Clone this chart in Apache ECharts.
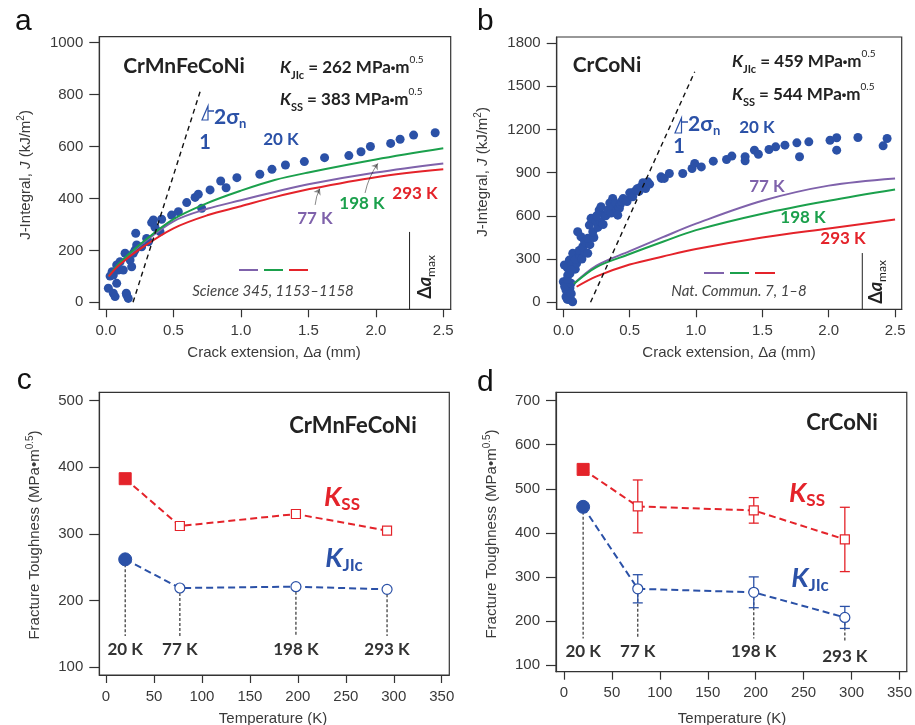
<!DOCTYPE html>
<html><head><meta charset="utf-8">
<script src="https://cdn.jsdelivr.net/npm/echarts@6/dist/echarts.min.js"></script>
<style>html,body{margin:0;padding:0;background:#fff}#c{width:915px;height:725px}</style>
</head><body><div id="c"></div>
<script>
// ---------------- DATA ----------------
// Panel a: CrMnFeCoNi, J-R curves
const crmnScatter20K = [[0.017,54],[0.030,101],[0.045,118],[0.054,105],[0.054,35],[0.067,22],[0.079,73],[0.079,144],[0.091,124],[0.104,156],[0.128,124],[0.141,189],[0.150,35],[0.153,28],[0.165,15],[0.165,176],[0.178,163],[0.190,137],[0.202,189],[0.215,201],[0.220,266],[0.227,221],[0.264,214],[0.301,246],[0.314,233],[0.338,307],[0.351,317],[0.363,289],[0.400,272],[0.412,320],[0.486,336],[0.536,349],[0.598,384],[0.660,404],[0.684,416],[0.709,362],[0.771,433],[0.85,467],[0.89,441],[0.97,480],[1.14,493],[1.23,512],[1.33,529],[1.47,542],[1.62,557],[1.80,565],[1.89,580],[1.96,600],[2.11,612],[2.18,628],[2.28,644],[2.44,653]];
const crmnCurveX = [0.02,0.1,0.25,0.5,0.75,1.0,1.25,1.5,2.0,2.5];
const crmn77K  = [100,150,218,312,360,393,425,455,500,535];
const crmn198K = [100,152,222,320,382,430,471,500,550,593];
const crmn293K = [100,145,205,285,335,370,405,435,482,512];
const crmnBlunt = [[0.20,0],[0.697,811]];
const crmnArrows = [[[1.55,375],[1.585,438]],[[1.92,421],[2.015,535]]];

// Panel b: CrCoNi, J-R curves
const crcoScatter20K = [[0.02,39],[0.07,4],[0.04,60],[0.058,16],[0.05,100],[0.02,85],[0.0,143],[0.01,110],[0.03,20],[0.06,60],[0.033,189],[0.058,132],[0.03,160],[0.05,200],[0.008,259],[0.03,240],[0.07,250],[0.09,230],[0.045,293],[0.06,270],[0.10,270],[0.071,340],[0.058,224],[0.09,300],[0.121,328],[0.12,360],[0.14,300],[0.16,350],[0.146,386],[0.184,340],[0.133,455],[0.16,420],[0.20,400],[0.184,444],[0.23,450],[0.196,536],[0.222,490],[0.108,490],[0.209,583],[0.246,559],[0.26,520],[0.28,560],[0.30,540],[0.25,600],[0.27,640],[0.284,663],[0.309,605],[0.32,600],[0.334,640],[0.35,690],[0.36,620],[0.38,660],[0.372,721],[0.397,686],[0.40,640],[0.422,652],[0.41,605],[0.43,680],[0.44,700],[0.45,720],[0.473,709],[0.48,700],[0.50,760],[0.52,760],[0.523,732],[0.548,779],[0.56,790],[0.57,770],[0.586,802],[0.60,830],[0.62,790],[0.623,814],[0.636,836],[0.65,820],[0.736,871],[0.74,860],[0.761,860],[0.799,894],[0.90,894],[0.97,929],[0.99,964],[1.04,940],[1.13,980],[1.23,991],[1.27,1015],[1.37,1010],[1.37,982],[1.44,1056],[1.47,1028],[1.55,1061],[1.60,1079],[1.67,1091],[1.76,1107],[1.78,1010],[1.85,1114],[2.01,1125],[2.06,1142],[2.06,1056],[2.22,1144],[2.41,1086],[2.44,1137]];
const crcoCurveX = [0.08,0.25,0.5,0.75,1.0,1.5,2.0,2.5];
const crco77K  = [130,255,355,452,546,705,810,860];
const crco198K = [128,245,335,420,501,615,705,783];
const crcoRedX = [0.1,0.25,0.5,0.75,1.0,1.5,2.0,2.5];
const crco293K = [108,180,262,318,370,450,513,575];
const crcoBlunt = [[0.205,0],[0.99,1600]];

const deltaAmaxA = 2.25, deltaAmaxB = 2.253;

// Panels c, d: fracture toughness vs temperature
const temps = [20,77,198,293];
const tempLabels = ['20 K','77 K','198 K','293 K'];
const crmnKss  = [383,312,330,305];
const crmnKjic = [262,219,221,217];
const crcoKss  = [544,460,451,385];
const crcoKssLo = [null,400,422,312];
const crcoKssHi = [null,520,480,458];
const crcoKjic = [459,273,265,208];
const crcoKjicLo = [null,241,230,183];
const crcoKjicHi = [null,305,300,233];

// tick values
const jrTicksX = [0,0.5,1.0,1.5,2.0,2.5];
const aTicksY = [0,200,400,600,800,1000];
const bTicksY = [0,300,600,900,1200,1500,1800];
const tTicksX = [0,50,100,150,200,250,300,350];
const cTicksY = [100,200,300,400,500];
const dTicksY = [100,200,300,400,500,600,700];

// ---------------- STYLE ----------------
const AX = '"Liberation Sans", Arial, sans-serif';
const AN = 'Lato, "Open Sans", sans-serif';
const BLUE='#2b51a7', RED='#e4232a', GREEN='#1ba04c', PURPLE='#7f62ab', INK='#222';

function xAx(gi,min,max,ticks,fmt){
  return {type:'value', gridIndex:gi, min:min, max:max,
    axisLine:{show:true,onZero:false,lineStyle:{color:'#333',width:1.2}},
    axisTick:{show:true,inside:false,length:8,customValues:ticks,lineStyle:{color:'#333',width:1.2}},
    axisLabel:{show:true,customValues:ticks,margin:14,fontFamily:AX,fontSize:15,color:'#3a3a3a',formatter:fmt||(v=>String(v))},
    splitLine:{show:false}};
}
function yAx(gi,min,max,ticks){
  return {type:'value', gridIndex:gi, min:min, max:max,
    axisLine:{show:true,onZero:false,lineStyle:{color:'#333',width:1.2}},
    axisTick:{show:true,inside:false,length:10,customValues:ticks,lineStyle:{color:'#333',width:1.2}},
    axisLabel:{show:true,customValues:ticks,margin:16,fontFamily:AX,fontSize:15,color:'#3a3a3a',formatter:v=>String(v)},
    splitLine:{show:false}};
}
const gridBase = {show:true,borderColor:'#333',borderWidth:1.2,backgroundColor:'transparent',containLabel:false};
const fmt1 = v => v.toFixed(1);

function curve(gi,xs,ys,color){
  return {type:'line',xAxisIndex:gi,yAxisIndex:gi,data:xs.map((x,i)=>[x,ys[i]]),smooth:0.35,
    showSymbol:false,symbol:'none',lineStyle:{color:color,width:2},z:4,silent:true};
}
function errRender(color){
  return function(params,api){
    const x=api.value(0),lo=api.value(1),hi=api.value(2);
    const p1=api.coord([x,lo]),p2=api.coord([x,hi]);const w=5;
    const st={stroke:color,lineWidth:1.3};
    return {type:'group',children:[
      {type:'line',shape:{x1:p1[0],y1:p1[1],x2:p2[0],y2:p2[1]},style:st},
      {type:'line',shape:{x1:p1[0]-w,y1:p1[1],x2:p1[0]+w,y2:p1[1]},style:st},
      {type:'line',shape:{x1:p2[0]-w,y1:p2[1],x2:p2[0]+w,y2:p2[1]},style:st}]};
  };
}
function dropRender(params,api){
  const x=api.value(0),top=api.value(1),base=api.value(2);
  const p1=api.coord([x,top]),p2=api.coord([x,base]);
  return {type:'line',shape:{x1:p1[0],y1:p1[1],x2:p2[0],y2:p2[1]},style:{stroke:'#333',lineWidth:1.2,lineDash:[3,2]}};
}
function kSeries(gi,vals,color,shape){
  return {type:'line',xAxisIndex:gi,yAxisIndex:gi,symbol:shape,z:5,
    lineStyle:{color:color,width:2,type:[7,4]},
    data:temps.map((t,i)=> i===0 ?
      {value:[t,vals[i]],symbolSize:shape==='rect'?12:13,itemStyle:{color:color,borderColor:color,borderWidth:1}} :
      {value:[t,vals[i]],symbolSize:shape==='rect'?9:10,itemStyle:{color:'#fff',borderColor:color,borderWidth:1.2}})};
}

const chart = echarts.init(document.getElementById('c'));
chart.setOption({
  animation:false,
  backgroundColor:'#fff',
  grid:[
    Object.assign({left:99.3,top:36.7,width:351.4,height:272.6},gridBase),
    Object.assign({left:556.7,top:37,width:345,height:272.3},gridBase),
    Object.assign({left:99.3,top:392.3,width:350,height:282.7},gridBase),
    Object.assign({left:556,top:392.3,width:351.3,height:279.4},gridBase)
  ],
  xAxis:[
    xAx(0,-0.05,2.555,jrTicksX,fmt1),
    xAx(1,-0.05,2.55,jrTicksX,fmt1),
    xAx(2,-7,357.9,tTicksX),
    xAx(3,-8.3,357.6,tTicksX)
  ],
  yAxis:[
    yAx(0,-27,1023,aTicksY),
    yAx(1,-48.5,1841.6,bTicksY),
    yAx(2,88.5,512.6,cTicksY),
    yAx(3,84.8,719,dTicksY)
  ],
  series:[
    // panel a
    {type:'scatter',xAxisIndex:0,yAxisIndex:0,data:crmnScatter20K,symbolSize:9,itemStyle:{color:BLUE,opacity:1},z:3},
    curve(0,crmnCurveX,crmn77K,PURPLE),
    curve(0,crmnCurveX,crmn198K,GREEN),
    curve(0,crmnCurveX,crmn293K,RED),
    {type:'line',xAxisIndex:0,yAxisIndex:0,data:crmnBlunt,symbol:'none',lineStyle:{color:'#111',width:1.4,type:[5,4]},z:4},
    {type:'line',xAxisIndex:0,yAxisIndex:0,data:[[deltaAmaxA,-27],[deltaAmaxA,271]],symbol:'none',lineStyle:{color:'#222',width:1},z:4},
    {type:'lines',coordinateSystem:'cartesian2d',xAxisIndex:0,yAxisIndex:0,symbol:['none','arrow'],symbolSize:6,
      lineStyle:{color:'#111',width:1,curveness:0.1},data:crmnArrows.map(c=>({coords:c})),z:6},
    // panel b
    {type:'scatter',xAxisIndex:1,yAxisIndex:1,data:crcoScatter20K,symbolSize:9,itemStyle:{color:BLUE,opacity:1},z:3},
    curve(1,crcoCurveX,crco77K,PURPLE),
    curve(1,crcoCurveX,crco198K,GREEN),
    curve(1,crcoRedX,crco293K,RED),
    {type:'line',xAxisIndex:1,yAxisIndex:1,data:crcoBlunt,symbol:'none',lineStyle:{color:'#111',width:1.4,type:[5,4]},z:4},
    {type:'line',xAxisIndex:1,yAxisIndex:1,data:[[deltaAmaxB,-48.5],[deltaAmaxB,342]],symbol:'none',lineStyle:{color:'#222',width:1},z:4},
    // panel c
    {type:'custom',xAxisIndex:2,yAxisIndex:2,renderItem:dropRender,encode:{x:0,y:[1,2]},z:1,
      data:temps.map((t,i)=>[t,crmnKjic[i],147])},
    kSeries(2,crmnKss,RED,'rect'),
    kSeries(2,crmnKjic,BLUE,'circle'),
    // panel d
    {type:'custom',xAxisIndex:3,yAxisIndex:3,renderItem:dropRender,encode:{x:0,y:[1,2]},z:1,
      data:temps.map((t,i)=>[t,crcoKjic[i],i===3?152:160])},
    {type:'custom',xAxisIndex:3,yAxisIndex:3,renderItem:errRender(RED),encode:{x:0,y:[1,2]},z:3,
      data:temps.map((t,i)=>[t,crcoKssLo[i],crcoKssHi[i]]).filter(d=>d[1]!==null)},
    {type:'custom',xAxisIndex:3,yAxisIndex:3,renderItem:errRender(BLUE),encode:{x:0,y:[1,2]},z:3,
      data:temps.map((t,i)=>[t,crcoKjicLo[i],crcoKjicHi[i]]).filter(d=>d[1]!==null)},
    kSeries(3,crcoKss,RED,'rect'),
    kSeries(3,crcoKjic,BLUE,'circle')
  ]
});

// ---------------- ANNOTATIONS ----------------
function txt(x,y,text,opt){
  opt=opt||{};
  return {type:'text',x:x,y:y,rotation:opt.rot||0,z:100,silent:true,
    style:{text:text,fill:opt.fill||INK,fontFamily:opt.ff||AN,fontSize:opt.fs||17,fontWeight:opt.fw||'bold',
      fontStyle:opt.fst||'normal',align:opt.align||'center',verticalAlign:opt.va||'middle',
      lineHeight:opt.lh||Math.round((opt.fs||17)*1.3),rich:opt.rich}};
}
const kEqRich = {
  k:{fontFamily:AN,fontSize:17,fontWeight:'bold',fontStyle:'italic',lineHeight:26,verticalAlign:'middle',fill:INK},
  s:{fontFamily:AN,fontSize:11,fontWeight:'bold',lineHeight:12,verticalAlign:'bottom',fill:INK},
  t:{fontFamily:AN,fontSize:17,fontWeight:'bold',lineHeight:26,verticalAlign:'middle',fill:INK},
  d:{fontFamily:AX,fontSize:13,fontWeight:'bold',lineHeight:26,verticalAlign:'middle',fill:INK},
  p:{fontFamily:AN,fontSize:10,fontWeight:'normal',lineHeight:12,verticalAlign:'top',fill:INK}
};
function kEq(x,y,sub,val){
  return txt(x,y,'{k|K}{s|'+sub+'}{t| = '+val+' MPa}{d|•}{t|m}{p|0.5}',{align:'left',lh:26,rich:kEqRich});
}
function bigK(x,y,sub,color){
  return txt(x,y,'{k|K}{s|'+sub+'}',{lh:32,rich:{
    k:{fontFamily:AN,fontSize:27,fontWeight:'bold',fontStyle:'italic',lineHeight:32,verticalAlign:'middle',fill:color},
    s:{fontFamily:AN,fontSize:17,fontWeight:'bold',lineHeight:18,verticalAlign:'bottom',fill:color}}});
}
function sigma(x,y){
  return txt(x,y,'2σ{n|n}',{align:'left',fs:21,fill:BLUE,lh:26,rich:{
    n:{fontFamily:AN,fontSize:13,fontWeight:'bold',lineHeight:12,verticalAlign:'bottom',fill:BLUE}}});
}
function damax(x,y){
  return txt(x,y,'Δ{i|a}{s|max}',{rot:Math.PI/2,fs:18,lh:24,rich:{
    i:{fontFamily:AN,fontSize:18,fontWeight:'bold',fontStyle:'italic',lineHeight:24,verticalAlign:'middle',fill:INK},
    s:{fontFamily:AN,fontSize:12,fontWeight:'normal',lineHeight:12,verticalAlign:'bottom',fill:INK}}});
}
function axTitle(x,y,text,rot,rich){
  return txt(x,y,text,{ff:AX,fs:15,fw:'normal',fill:'#3a3a3a',rot:rot||0,lh:20,rich:rich});
}
const axRich = {
  i:{fontFamily:AX,fontSize:15,fontStyle:'italic',lineHeight:20,verticalAlign:'middle',fill:'#3a3a3a'},
  p:{fontFamily:AX,fontSize:10,lineHeight:10,verticalAlign:'top',fill:'#3a3a3a'}
};
function seg(x1,y1,x2,y2,color,w){
  return {type:'line',z:100,silent:true,shape:{x1:x1,y1:y1,x2:x2,y2:y2},style:{stroke:color,lineWidth:w||2}};
}
function tri(pts){
  return {type:'polygon',z:100,silent:true,shape:{points:pts},style:{stroke:BLUE,lineWidth:1.2,fill:'rgba(255,255,255,0)'}};
}
function panelLetter(x,y,ch){
  return txt(x,y,ch,{ff:AX,fs:30,fw:'normal',fill:'#111',align:'left'});
}

const g = [];
// panel a
g.push(panelLetter(15,21.5,'a'));
g.push(txt(184,66,'CrMnFeCoNi',{fs:21}));
g.push(kEq(280,68,'JIc','262'));
g.push(kEq(280,100,'SS','383'));
g.push(txt(281,140,'20 K',{fill:BLUE}));
g.push(txt(315,219,'77 K',{fill:PURPLE}));
g.push(txt(362,204,'198 K',{fill:GREEN}));
g.push(txt(415,194,'293 K',{fill:RED}));
g.push(tri([[202,120],[208,120],[208,106]]));
g.push(seg(208,111,214,111,BLUE,1.5));
g.push(sigma(214,117));
g.push(txt(205,143,'1',{fill:BLUE,fs:20}));
g.push(seg(239,270,258,270,PURPLE),seg(264,270,283,270,GREEN),seg(289,270,308,270,RED));
g.push(txt(273,291,'Science 345, 1153–1158',{fs:15,fw:'normal',fst:'italic',fill:'#444'}));
g.push(damax(425,277));
g.push(axTitle(274,353,'Crack extension, Δ{i|a} (mm)',0,axRich));
g.push(axTitle(26,175,'J-Integral, {i|J} (kJ/m{p|2})',Math.PI/2,axRich));
// panel b
g.push(panelLetter(477,21.5,'b'));
g.push(txt(607,65,'CrCoNi',{fs:21}));
g.push(kEq(732,62,'JIc','459'));
g.push(kEq(732,95,'SS','544'));
g.push(txt(757,128,'20 K',{fill:BLUE}));
g.push(txt(767,187,'77 K',{fill:PURPLE}));
g.push(txt(803,218,'198 K',{fill:GREEN}));
g.push(txt(843,239,'293 K',{fill:RED}));
g.push(tri([[675,133],[681.5,133],[681.5,118]]));
g.push(seg(681.5,122,688,122,BLUE,1.5));
g.push(sigma(688,124));
g.push(txt(679,147,'1',{fill:BLUE,fs:20}));
g.push(seg(704,273,724,273,PURPLE),seg(730,273,749,273,GREEN),seg(755,273,775,273,RED));
g.push(txt(739,291,'Nat. Commun. 7, 1–8',{fs:15,fw:'normal',fst:'italic',fill:'#444'}));
g.push(damax(876,282));
g.push(axTitle(729,353,'Crack extension, Δ{i|a} (mm)',0,axRich));
g.push(axTitle(483,172,'J-Integral, {i|J} (kJ/m{p|2})',Math.PI/2,axRich));
// panel c
g.push(panelLetter(16.7,381,'c'));
g.push(txt(353,426,'CrMnFeCoNi',{fs:22}));
g.push(bigK(342,497,'SS',RED));
g.push(bigK(344,558,'JIc',BLUE));
temps.forEach((t,i)=>{
  const px = chart.convertToPixel({xAxisIndex:2,yAxisIndex:2},[t,0]);
  g.push(txt(px[0],650,tempLabels[i],{fs:17,fill:'#333'}));
});
g.push(axTitle(273,719,'Temperature (K)'));
g.push(axTitle(35,535,'Fracture Toughness (MPa•m{p|0.5})',Math.PI/2,axRich));
// panel d
g.push(panelLetter(477,383,'d'));
g.push(txt(842,423,'CrCoNi',{fs:22}));
g.push(bigK(807,493,'SS',RED));
g.push(bigK(810,578,'JIc',BLUE));
temps.forEach((t,i)=>{
  const px = chart.convertToPixel({xAxisIndex:3,yAxisIndex:3},[t,0]);
  g.push(txt(px[0],i===3?657:652,tempLabels[i],{fs:17,fill:'#333'}));
});
g.push(axTitle(732,719,'Temperature (K)'));
g.push(axTitle(492,534,'Fracture Toughness (MPa•m{p|0.5})',Math.PI/2,axRich));

chart.setOption({graphic:g});
</script></body></html>
